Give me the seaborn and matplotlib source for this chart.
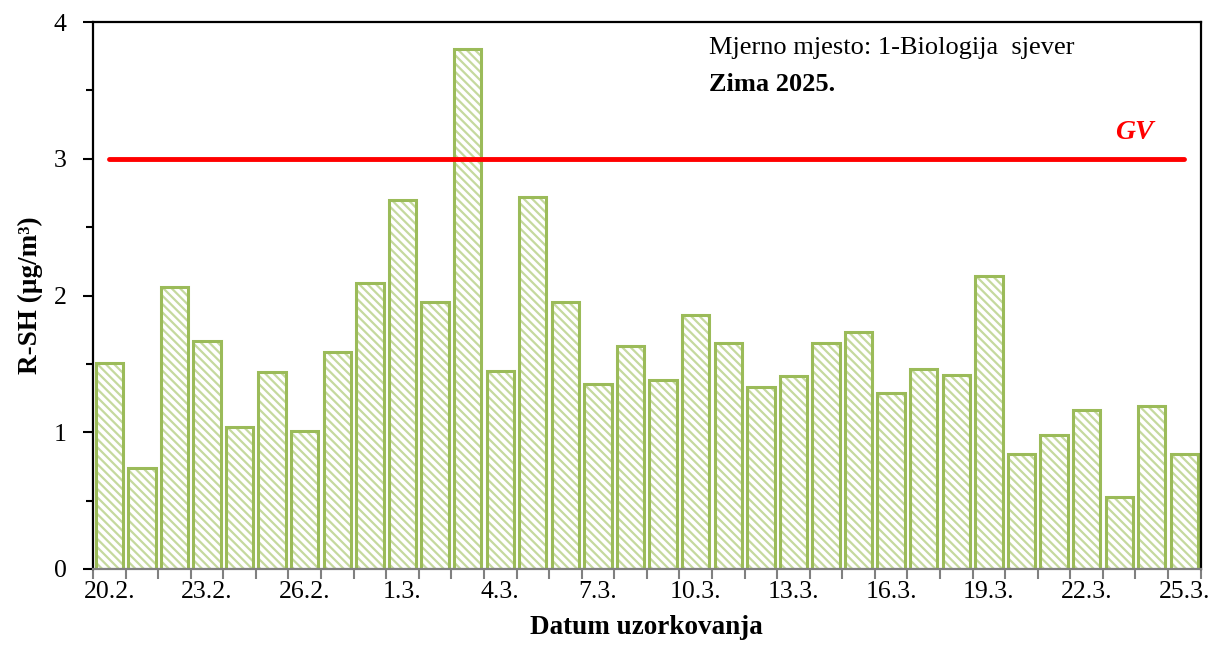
import matplotlib
matplotlib.use("Agg")
import matplotlib.pyplot as plt
import seaborn as sns
import pandas as pd
from matplotlib.ticker import MultipleLocator, FixedLocator

dates = ["20.2.", "21.2.", "22.2.", "23.2.", "24.2.", "25.2.", "26.2.", "27.2.", "28.2.",
         "1.3.", "2.3.", "3.3.", "4.3.", "5.3.", "6.3.", "7.3.", "8.3.", "9.3.", "10.3.",
         "11.3.", "12.3.", "13.3.", "14.3.", "15.3.", "16.3.", "17.3.", "18.3.", "19.3.",
         "20.3.", "21.3.", "22.3.", "23.3.", "24.3.", "25.3."]
values = [1.51, 0.74, 2.06, 1.67, 1.04, 1.44, 1.01, 1.59, 2.09, 2.70, 1.95, 3.80,
          1.45, 2.72, 1.95, 1.35, 1.63, 1.38, 1.86, 1.65, 1.33, 1.41, 1.65, 1.73,
          1.29, 1.46, 1.42, 2.14, 0.84, 0.98, 1.16, 0.53, 1.19, 0.84]
gv_limit = 3.0
gv_label = "GV"
title_line1 = "Mjerno mjesto: 1-Biologija  sjever"
title_line2 = "Zima 2025."
x_label = "Datum uzorkovanja"
y_label = "R-SH (µg/m³)"

sns.set_theme(style="white")
plt.rcParams["font.family"] = ["Liberation Serif", "DejaVu Serif"]
plt.rcParams["hatch.linewidth"] = 1.6
plt.rcParams["text.color"] = "black"
plt.rcParams["axes.labelcolor"] = "black"
plt.rcParams["xtick.color"] = "black"
plt.rcParams["ytick.color"] = "black"

df = pd.DataFrame({"date": dates, "value": values})

fig = plt.figure(figsize=(12.14, 6.55), dpi=100)
ax = fig.add_axes([0.0766, 0.1313, 0.9124, 0.8351])

# hatch layer
sns.barplot(data=df, x="date", y="value", order=dates, ax=ax, color="white",
            edgecolor="#C5D99E", linewidth=0, width=0.84, hatch="\\\\\\\\", errorbar=None)
# outline layer
sns.barplot(data=df, x="date", y="value", order=dates, ax=ax, fill=False,
            edgecolor="#9BBB59", linewidth=2.2, width=0.84, errorbar=None)

ax.plot([0, len(dates) - 1], [gv_limit, gv_limit], color="#FF0000", lw=3.5,
        solid_capstyle="round", zorder=5)
ax.text(len(dates) - 2.55, gv_limit + 0.1, gv_label, color="#FF0000", fontsize=20,
        fontweight="bold", fontstyle="italic", ha="center", va="bottom")

ax.set_xlim(-0.5, len(dates) - 0.5)
ax.set_ylim(0, 4)
ax.yaxis.set_major_locator(MultipleLocator(1))
ax.yaxis.set_minor_locator(MultipleLocator(0.5))
ax.set_yticklabels([f"{int(v)}" for v in ax.get_yticks()])

major_pos = list(range(0, len(dates), 3))
ax.xaxis.set_major_locator(FixedLocator(major_pos))
ax.set_xticklabels([dates[i] for i in major_pos])
ax.xaxis.set_minor_locator(FixedLocator([i - 0.5 for i in range(len(dates) + 1)]))

ax.tick_params(axis="x", which="major", length=0, labelsize=18.5, pad=9, labelcolor="black")
ax.tick_params(axis="x", which="minor", length=7, width=1.5, color="#808080", bottom=True)
ax.tick_params(axis="y", which="major", length=7, width=1.5, labelsize=18.5, left=True,
               pad=12, color="black", labelcolor="black")
ax.tick_params(axis="y", which="minor", length=5, width=1.5, left=True, color="black")

for side in ["left", "top", "right"]:
    ax.spines[side].set_color("black")
    ax.spines[side].set_linewidth(1.6)
ax.spines["bottom"].set_color("#808080")
ax.spines["bottom"].set_linewidth(1.6)

ax.set_xlabel(x_label, fontsize=19.5, fontweight="bold", labelpad=8, color="black")
ax.set_ylabel(y_label, fontsize=19.5, fontweight="bold", labelpad=8, color="black")

ax.text(0.556, 0.953, title_line1, transform=ax.transAxes, fontsize=19, va="center",
        ha="left", color="black")
ax.text(0.556, 0.886, title_line2, transform=ax.transAxes, fontsize=19, fontweight="bold",
        va="center", ha="left", color="black")

fig.savefig("out.png", dpi=100)
